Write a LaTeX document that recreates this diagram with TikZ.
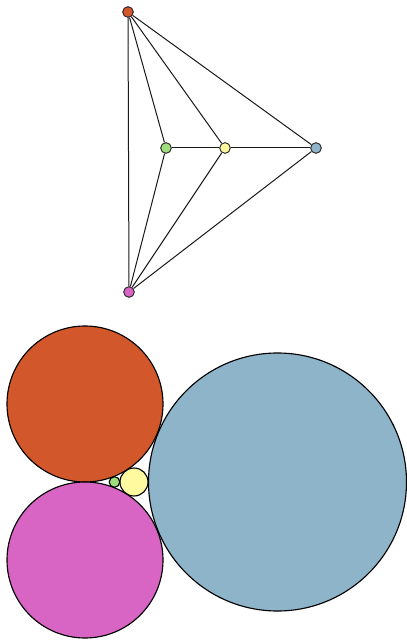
\documentclass[tikz,border=0pt]{standalone}
\usetikzlibrary{positioning, calc}
\definecolor{vtop}{HTML}{D2572A}
\definecolor{vbot}{HTML}{D864C4}
\definecolor{vright}{HTML}{8EB4CA}
\definecolor{vmid}{HTML}{FFFAA0}
\definecolor{vleft}{HTML}{9EDE7E}
\colorlet{edgecol}{black!90}

\begin{document}
\begin{tikzpicture}[
    x=0.75pt, y=-0.75pt,
    vert/.style={circle, draw=black!85, line width=0.7pt, minimum size=8pt,
                 inner sep=0pt},
    edge/.style={draw=edgecol, line width=0.75pt},
    disc/.style={draw=black, line width=0.85pt},
]

\def\u{0.75pt}
\useasboundingbox (0,0) rectangle (406,641);

% graph of the packing
\node[vert, fill=vtop]   (t) at (128,12)  {};
\node[vert, fill=vleft]  (l) at (166,148) {};
\node[vert, fill=vmid]   (m) at (225,148) {};
\node[vert, fill=vright] (r) at (316,148) {};
\node[vert, fill=vbot]   (b) at (129,292) {};

\foreach \a/\c in {t/b, t/l, t/m, t/r, l/m, m/r, b/l, b/m, b/r}
    \path[edge] (\a) -- (\c);

% circle packing
\filldraw[disc, fill=vtop]   (85,404)    circle[radius=78*\u];
\filldraw[disc, fill=vbot]   (85,560)    circle[radius=78*\u];
\filldraw[disc, fill=vright] (277.5,482) circle[radius=129*\u];
\filldraw[disc, fill=vmid]   (134,482)   circle[radius=14*\u];
\filldraw[disc, fill=vleft]  (114.5,482) circle[radius=5.3*\u];

\end{tikzpicture}
\end{document}
